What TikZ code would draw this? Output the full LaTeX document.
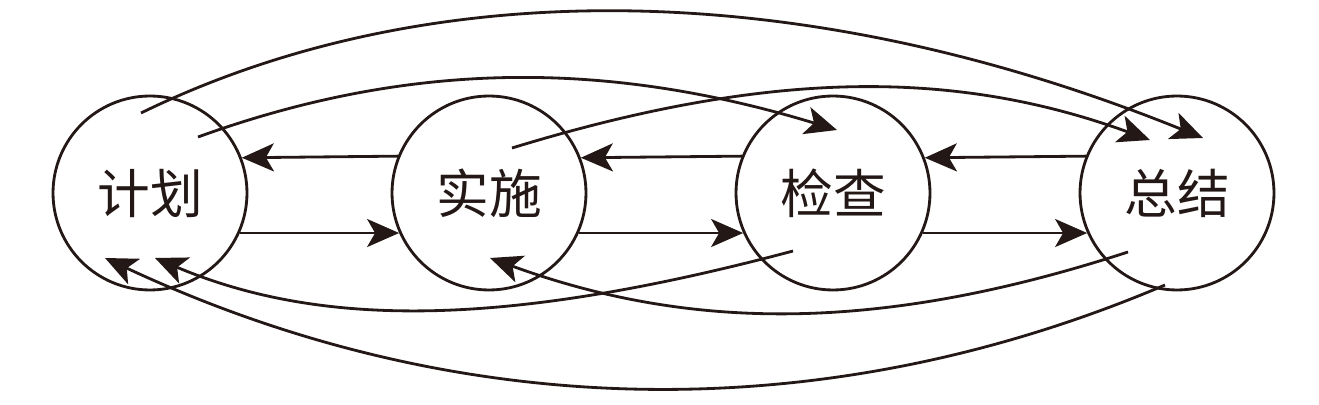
\documentclass[tikz,border=0pt]{standalone}
\usepackage{fontspec}
\newfontfamily\cjk{Noto Sans CJK SC}
\usetikzlibrary{arrows.meta}
\definecolor{ink}{HTML}{231815}
\tikzset{
  stage/.style={circle, draw=ink, line width=1.6pt, minimum size=3.88cm, inner sep=0pt,
    text=ink, font=\cjk\fontsize{30}{30}\selectfont},
  flow/.style={->, draw=ink, line width=1.6pt}
}
\begin{document}
\begin{tikzpicture}[x=0.02cm, y=-0.02cm, >={Stealth[length=0.64cm, width=0.56cm, inset=0.16cm]}]
  \useasboundingbox (0,0) rectangle (1319,405);
  \foreach \i/\x/\t in {1/150/计划, 2/489/实施, 3/833/检查, 4/1177/总结} {
    \node (v\i) at (\x,193) [stage] {\t};
  }
  % straight arrows between neighbours
  \foreach \a/\b in {1/2, 2/3, 3/4} {
    \draw[flow] (v\b.158.2) -- (v\a.21.8);
    \draw[flow] (v\a.-24.4) -- (v\b.204.4);
  }
  % free ends of the long arcs
  \coordinate (s1) at (141,113);  \coordinate (e1) at (1203,138);
  \coordinate (s2) at (198,137);  \coordinate (e2) at (837,130);
  \coordinate (s3) at (512,148);  \coordinate (e3) at (1150,140);
  \coordinate (s4) at (793,251);  \coordinate (e4) at (155,258);
  \coordinate (s5) at (1128,252); \coordinate (e5) at (490,258);
  \coordinate (s6) at (1165,285); \coordinate (e6) at (105,258);
  % arcs over the top
  \draw[flow] (s1) .. controls (426,-26) and (797,-26) .. (e1);
  \draw[flow] (s2) .. controls (411,60) and (607,60) .. (e2);
  \draw[flow] (s3) .. controls (770,69) and (955,69) .. (e3);
  % arcs under the bottom
  \draw[flow] (s4) .. controls (504,328) and (321,328) .. (e4);
  \draw[flow] (s5) .. controls (882,332) and (693,332) .. (e5);
  \draw[flow] (s6) .. controls (831,427) and (467,427) .. (e6);
\end{tikzpicture}
\end{document}
